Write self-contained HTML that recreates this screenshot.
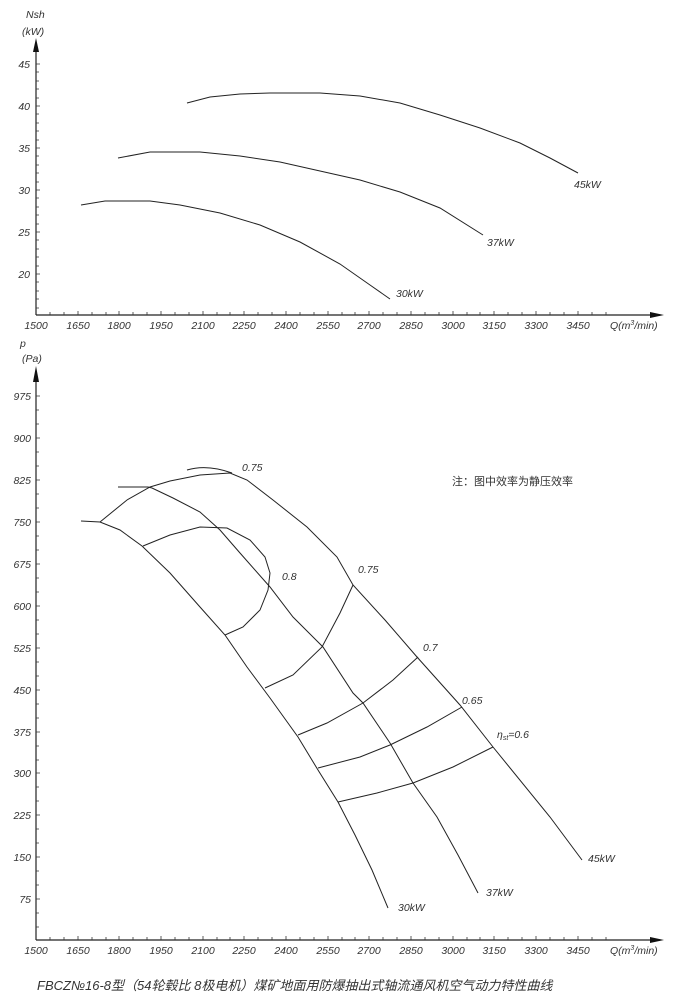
<!DOCTYPE html>
<html><head><meta charset="utf-8"><style>
html,body{margin:0;padding:0;background:#fff}
svg{display:block}
text{font-family:"Liberation Sans","Noto Sans CJK SC",sans-serif;font-style:italic;fill:#333;font-size:10.5px}
.c{fill:none;stroke:#222;stroke-width:1}
</style></head><body>
<svg width="676" height="1008" viewBox="0 0 676 1008" xmlns="http://www.w3.org/2000/svg">
<g id="ax" stroke="#222" stroke-width="1.2" fill="none">
<line x1="36" y1="50" x2="36" y2="315"/>
<line x1="36" y1="315" x2="660" y2="315"/>
<line x1="36" y1="380" x2="36" y2="940"/>
<line x1="36" y1="940" x2="660" y2="940"/>
</g>
<polygon points="36,38 33,52 39,52" fill="#111"/>
<polygon points="36,366 33,382 39,382" fill="#111"/>
<polygon points="664,315 650,312 650,318" fill="#111"/>
<polygon points="664,940 650,937 650,943" fill="#111"/>
<g stroke="#333" stroke-width="0.8">
<!-- top x ticks -->
<path d="M50,315v-3M64,315v-3M78,315v-4M92,315v-3M106,315v-3M119,315v-4M133,315v-3M147,315v-3M161,315v-4M175,315v-3M189,315v-3M203,315v-4M217,315v-3M230,315v-3M244,315v-4M258,315v-3M272,315v-3M286,315v-4M300,315v-3M314,315v-3M328,315v-4M342,315v-3M355,315v-3M369,315v-4M383,315v-3M397,315v-3M411,315v-4M425,315v-3M439,315v-3M453,315v-4M467,315v-3M480,315v-3M494,315v-4M508,315v-3M522,315v-3M536,315v-4M550,315v-3M564,315v-3M578,315v-4M592,315v-3M606,315v-3"/>
<path d="M50,940v-3M64,940v-3M78,940v-4M92,940v-3M106,940v-3M119,940v-4M133,940v-3M147,940v-3M161,940v-4M175,940v-3M189,940v-3M203,940v-4M217,940v-3M230,940v-3M244,940v-4M258,940v-3M272,940v-3M286,940v-4M300,940v-3M314,940v-3M328,940v-4M342,940v-3M355,940v-3M369,940v-4M383,940v-3M397,940v-3M411,940v-4M425,940v-3M439,940v-3M453,940v-4M467,940v-3M480,940v-3M494,940v-4M508,940v-3M522,940v-3M536,940v-4M550,940v-3M564,940v-3M578,940v-4M592,940v-3M606,940v-3"/>
<!-- top y ticks every 1kW -->
<path d="M36,64h4M36,72h3M36,81h3M36,89h3M36,98h3M36,106h4M36,114h3M36,123h3M36,131h3M36,140h3M36,148h4M36,156h3M36,165h3M36,173h3M36,182h3M36,190h4M36,198h3M36,207h3M36,215h3M36,224h3M36,232h4M36,240h3M36,249h3M36,257h3M36,266h3M36,274h4M36,282h3M36,291h3M36,299h3M36,308h3"/>
<!-- bottom y ticks every 25 Pa -->
<path d="M36,396h4M36,410h3M36,424h3M36,438h4M36,452h3M36,466h3M36,480h4M36,494h3M36,508h3M36,522h4M36,536h3M36,550h3M36,564h4M36,578h3M36,592h3M36,606h4M36,620h3M36,634h3M36,648h4M36,662h3M36,676h3M36,690h4M36,704h3M36,718h3M36,732h4M36,746h3M36,760h3M36,773h4M36,787h3M36,801h3M36,815h4M36,829h3M36,843h3M36,857h4M36,871h3M36,885h3M36,899h4M36,913h3M36,927h3"/>
</g>
<text x="26" y="18">Nsh</text>
<text x="22" y="35">(kW)</text>
<g text-anchor="end">
<text x="30" y="68">45</text><text x="30" y="110">40</text><text x="30" y="152">35</text>
<text x="30" y="194">30</text><text x="30" y="236">25</text><text x="30" y="278">20</text>
</g>
<g text-anchor="middle">
<text x="36" y="329">1500</text><text x="78" y="329">1650</text><text x="119" y="329">1800</text><text x="161" y="329">1950</text><text x="203" y="329">2100</text><text x="244" y="329">2250</text><text x="286" y="329">2400</text><text x="328" y="329">2550</text><text x="369" y="329">2700</text><text x="411" y="329">2850</text><text x="453" y="329">3000</text><text x="494" y="329">3150</text><text x="536" y="329">3300</text><text x="578" y="329">3450</text>
<text x="36" y="954">1500</text><text x="78" y="954">1650</text><text x="119" y="954">1800</text><text x="161" y="954">1950</text><text x="203" y="954">2100</text><text x="244" y="954">2250</text><text x="286" y="954">2400</text><text x="328" y="954">2550</text><text x="369" y="954">2700</text><text x="411" y="954">2850</text><text x="453" y="954">3000</text><text x="494" y="954">3150</text><text x="536" y="954">3300</text><text x="578" y="954">3450</text>
</g>
<text x="610" y="329">Q(m<tspan font-size="7" dy="-4">3</tspan><tspan dy="4">/min)</tspan></text>
<text x="610" y="954">Q(m<tspan font-size="7" dy="-4">3</tspan><tspan dy="4">/min)</tspan></text>
<!-- top curves -->
<path class="c" d="M187,103 L210,97 L240,94 L270,93 L320,93 L360,96 L400,103 L440,115 L480,128 L520,143 L550,158 L578,173"/>
<path class="c" d="M118,158 L150,152 L200,152 L240,156 L280,162 L320,171 L360,180 L400,192 L440,208 L483,235"/>
<path class="c" d="M81,205 L105,201 L150,201 L180,205 L220,213 L260,225 L300,242 L340,264 L370,285 L390,299"/>
<text x="574" y="188">45kW</text><text x="487" y="246">37kW</text><text x="396" y="297">30kW</text>
<!-- bottom -->
<text x="20" y="347">p</text>
<text x="22" y="362">(Pa)</text>
<g text-anchor="end">
<text x="31" y="400">975</text><text x="31" y="442">900</text><text x="31" y="484">825</text><text x="31" y="526">750</text><text x="31" y="568">675</text><text x="31" y="610">600</text><text x="31" y="652">525</text><text x="31" y="694">450</text><text x="31" y="736">375</text><text x="31" y="777">300</text><text x="31" y="819">225</text><text x="31" y="861">150</text><text x="31" y="903">75</text>
</g>
<path class="c" d="M81,521 L100,522 L120,530 L142,546 L170,573 L200,607 L225,635 L247,667 L270,698 L298,737 L318,770 L338,802 L355,835 L372,870 L388,908"/>
<path class="c" d="M118,487 L148,487 L152,488 L173,498 L200,512 L220,530 L240,553 L270,587 L293,617 L323,647 L353,693 L363,703 L390,743 L413,783 L437,817 L458,855 L478,893"/>
<path class="c" d="M100,522 L127,500 L150,487 L170,481 L200,475 L230,473 L247,480 L273,500 L307,527 L337,557 L353,585 L385,620 L417,657 L460,705 L493,747 L550,817 L582,860"/>
<path class="c" d="M187,470 Q207,464 232,473"/>
<path class="c" d="M143,546 L170,535 L200,527 L227,528 L250,540 L265,557 L270,573 L268,590 L260,610 L243,627 L225,635"/>
<path class="c" d="M265,688 L293,675 L322,647 L340,613 L353,585"/>
<path class="c" d="M298,735 L327,723 L363,703 L393,680 L418,657"/>
<path class="c" d="M318,768 L360,757 L390,745 L427,727 L462,707"/>
<path class="c" d="M338,802 L377,793 L413,783 L453,767 L493,747"/>
<text x="242" y="471">0.75</text>
<text x="282" y="580">0.8</text>
<text x="358" y="573">0.75</text>
<text x="423" y="651">0.7</text>
<text x="462" y="704">0.65</text>
<text x="497" y="738">η<tspan font-size="7" dy="2">st</tspan><tspan dy="-2">=0.6</tspan></text>
<text x="452" y="485" style="font-style:normal;font-size:11px">注：图中效率为静压效率</text>
<text x="588" y="862">45kW</text><text x="486" y="896">37kW</text><text x="398" y="911">30kW</text>
<text x="37" y="990" style="font-size:13px">FBCZ№16-8型（54轮毂比 8极电机）煤矿地面用防爆抽出式轴流通风机空气动力特性曲线</text>
</svg>
</body></html>
